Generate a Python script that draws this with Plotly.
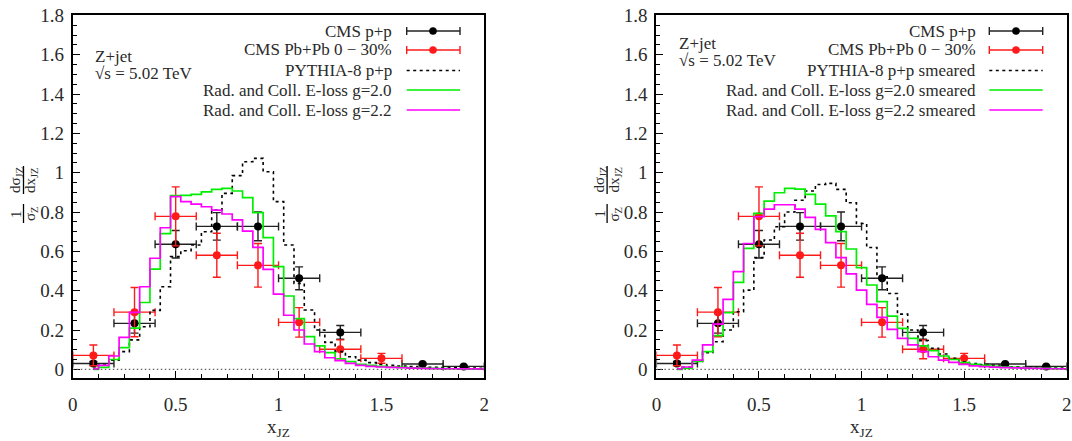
import plotly.graph_objects as go

# ---------------- data ----------------
xb = [0.10, 0.15, 0.20, 0.25, 0.30, 0.35, 0.40, 0.45, 0.50, 0.55, 0.60, 0.65, 0.70,
      0.75, 0.80, 0.85, 0.90, 0.95, 1.00, 1.05, 1.10, 1.15, 1.20, 1.25, 1.30, 1.35,
      1.40, 1.45, 1.50, 1.55, 1.60, 1.65, 1.70, 1.75, 1.80, 1.85, 1.90, 1.95, 2.00]

green_L = [0.0, 0.01, 0.05, 0.11, 0.21, 0.34, 0.51, 0.69, 0.883, 0.885, 0.89, 0.903, 0.915,
           0.92, 0.907, 0.873, 0.797, 0.67, 0.522, 0.373, 0.258, 0.166, 0.119, 0.085, 0.054,
           0.039, 0.025, 0.02, 0.015, 0.012, 0.01, 0.008, 0.006, 0.005, 0.004, 0.003, 0.002,
           0.002, 0.001]
magenta_L = [0.002, 0.02, 0.068, 0.163, 0.29, 0.42, 0.565, 0.72, 0.878, 0.853, 0.84, 0.827,
             0.81, 0.79, 0.76, 0.703, 0.62, 0.508, 0.383, 0.275, 0.2, 0.129, 0.09, 0.059,
             0.044, 0.03, 0.02, 0.015, 0.012, 0.01, 0.008, 0.006, 0.005, 0.004, 0.003, 0.003,
             0.002, 0.002, 0.001]
pythia_L = [0.005, 0.022, 0.047, 0.09, 0.15, 0.217, 0.30, 0.42, 0.573, 0.603, 0.632, 0.70,
            0.81, 0.895, 0.985, 1.056, 1.073, 1.005, 0.853, 0.632, 0.437, 0.302, 0.2, 0.137,
            0.09, 0.064, 0.047, 0.034, 0.025, 0.02, 0.017, 0.014, 0.012, 0.01, 0.009, 0.008,
            0.007, 0.006, 0.005]

green_R = [0.0, 0.005, 0.04, 0.09, 0.171, 0.288, 0.442, 0.615, 0.793, 0.856, 0.898, 0.92,
           0.917, 0.89, 0.84, 0.78, 0.70, 0.612, 0.517, 0.429, 0.344, 0.271, 0.208, 0.158,
           0.119, 0.095, 0.068, 0.05, 0.034, 0.025, 0.02, 0.015, 0.012, 0.01, 0.008, 0.006,
           0.005, 0.004, 0.003]
magenta_R = [0.002, 0.012, 0.047, 0.124, 0.23, 0.356, 0.497, 0.64, 0.776, 0.815, 0.837, 0.837,
             0.815, 0.773, 0.712, 0.644, 0.568, 0.486, 0.403, 0.33, 0.264, 0.203, 0.158, 0.124,
             0.09, 0.064, 0.047, 0.035, 0.025, 0.018, 0.014, 0.011, 0.009, 0.007, 0.006, 0.005,
             0.004, 0.003, 0.002]
pythia_R = [0.002, 0.01, 0.04, 0.085, 0.14, 0.2, 0.293, 0.403, 0.568, 0.658, 0.725, 0.80,
            0.86, 0.907, 0.94, 0.946, 0.915, 0.847, 0.742, 0.62, 0.471, 0.386, 0.281, 0.2,
            0.146, 0.107, 0.078, 0.056, 0.039, 0.03, 0.024, 0.02, 0.016, 0.013, 0.011, 0.009,
            0.008, 0.007, 0.006]

pp_x = [0.1, 0.3, 0.5, 0.7, 0.9, 1.1, 1.3, 1.7, 1.9]
pp_y = [0.03, 0.234, 0.636, 0.727, 0.727, 0.463, 0.188, 0.027, 0.015]
pp_ey = [0.01, 0.05, 0.07, 0.07, 0.073, 0.058, 0.035, 0.006, 0.005]
pp_ex = [0.1, 0.1, 0.1, 0.1, 0.1, 0.1, 0.1, 0.1, 0.1]

aa_x = [0.1, 0.3, 0.5, 0.7, 0.9, 1.1, 1.3, 1.5]
aa_y = [0.071, 0.291, 0.778, 0.58, 0.529, 0.239, 0.102, 0.056]
aa_ey = [0.053, 0.125, 0.15, 0.112, 0.111, 0.075, 0.048, 0.025]
aa_ex = [0.1, 0.1, 0.1, 0.1, 0.1, 0.1, 0.1, 0.1]

yticks = [0, 0.2, 0.4, 0.6, 0.8, 1.0, 1.2, 1.4, 1.6, 1.8]
ytick_text = ["0", "0.2", "0.4", "0.6", "0.8", "1", "1.2", "1.4", "1.6", "1.8"]
xticks = [0, 0.5, 1, 1.5, 2]
xtick_text = ["0", "0.5", "1", "1.5", "2"]

legend_L = ["CMS p+p", "CMS Pb+Pb 0 \u2212 30%", "PYTHIA-8 p+p",
            "Rad. and Coll. E-loss g=2.0", "Rad. and Coll. E-loss g=2.2"]
legend_R = ["CMS p+p", "CMS Pb+Pb 0 \u2212 30%", "PYTHIA-8 p+p smeared",
            "Rad. and Coll. E-loss g=2.0 smeared", "Rad. and Coll. E-loss g=2.2 smeared"]

# ---------------- layout constants ----------------
W, H = 1072, 441
FONT = "Liberation Serif"
TXT = "#2a2a2a"
BLACK = "#000000"
RED = "#ff1a1a"
GREEN = "#00ee00"
MAGENTA = "#ff00ff"

panels = [dict(x0=72.8, x1=484.3), dict(x0=656.4, x1=1066.7)]
ptop, pbot = 15.4, 378.0

def px(x):
    return x / W

def py(y):
    return 1 - y / H

def ann(x, y, text, font, xanchor="center", yanchor="middle", **kw):
    d = dict(xref="paper", yref="paper", x=px(x), y=py(y), text=text, showarrow=False,
             font=font, xanchor=xanchor, yanchor=yanchor)
    d.update(kw)
    return d

fig = go.Figure()

series = [(green_L, magenta_L, pythia_L), (green_R, magenta_R, pythia_R)]

for i, (g, m, p) in enumerate(series):
    xa = "x" if i == 0 else "x2"
    ya = "y" if i == 0 else "y2"
    fig.add_trace(go.Scatter(
        x=pp_x, y=pp_y, mode="markers", xaxis=xa, yaxis=ya, showlegend=False,
        marker=dict(color=BLACK, size=8),
        error_x=dict(type="data", array=pp_ex, color="#222222", thickness=1.4, width=4),
        error_y=dict(type="data", array=pp_ey, color="#222222", thickness=1.4, width=4)))
    fig.add_trace(go.Scatter(
        x=aa_x, y=aa_y, mode="markers", xaxis=xa, yaxis=ya, showlegend=False,
        marker=dict(color=RED, size=8),
        error_x=dict(type="data", array=aa_ex, color=RED, thickness=1.4, width=4),
        error_y=dict(type="data", array=aa_ey, color=RED, thickness=1.4, width=4)))
    fig.add_trace(go.Scatter(x=xb, y=p, mode="lines", xaxis=xa, yaxis=ya, showlegend=False,
                             line=dict(color=BLACK, width=1.6, dash="3px,3.5px", shape="hvh")))
    fig.add_trace(go.Scatter(x=xb, y=g, mode="lines", xaxis=xa, yaxis=ya, showlegend=False,
                             line=dict(color=GREEN, width=1.7, shape="hvh")))
    fig.add_trace(go.Scatter(x=xb, y=m, mode="lines", xaxis=xa, yaxis=ya, showlegend=False,
                             line=dict(color=MAGENTA, width=1.7, shape="hvh")))

axis_common = dict(
    showgrid=False, zeroline=False, showline=True, linecolor=BLACK, linewidth=2,
    mirror=True, ticks="inside", ticklen=7, tickwidth=1.3, tickcolor=BLACK,
    tickfont=dict(family=FONT, size=19, color=TXT), automargin=False,
)
yrange = [-0.044, 1.8]
for i, pnl in enumerate(panels):
    xkey = "xaxis" if i == 0 else "xaxis2"
    ykey = "yaxis" if i == 0 else "yaxis2"
    fig.layout[xkey] = dict(
        axis_common, domain=[px(pnl["x0"]), px(pnl["x1"])], range=[0, 2],
        tickmode="array", tickvals=xticks, ticktext=xtick_text,
        ticklabelstandoff=8,
        minor=dict(dtick=0.125, ticklen=4, ticks="inside", tickcolor=BLACK, tickwidth=1),
        anchor="y" if i == 0 else "y2")
    fig.layout[ykey] = dict(
        axis_common, domain=[py(pbot), py(ptop)], range=yrange,
        tickmode="array", tickvals=yticks, ticktext=ytick_text,
        ticklabelstandoff=3,
        minor=dict(dtick=0.05, ticklen=4, ticks="inside", tickcolor=BLACK, tickwidth=1),
        anchor="x" if i == 0 else "x2")

shapes = []
annots = []
tf = dict(family=FONT, size=15, color=TXT)
for i, pnl in enumerate(panels):
    xa = "x" if i == 0 else "x2"
    ya = "y" if i == 0 else "y2"
    shapes.append(dict(type="line", xref=xa, yref=ya, x0=0, x1=2, y0=0, y1=0,
                       line=dict(color="#666666", width=1.4, dash="1.5px,2.5px")))
    off = pnl["x0"] - panels[0]["x0"]
    annots.append(ann((pnl["x0"] + pnl["x1"]) / 2, 428, "x<sub>JZ</sub>",
                      dict(family=FONT, size=19, color=TXT)))
    # y title: rotated fraction  (1/sigma_Z) (d sigma_JZ / d x_JZ)
    annots.append(ann(16 + off, 214, "1", tf, textangle=-90))
    annots.append(ann(16 + off, 180, "d\u03c3<sub>JZ</sub>", tf, textangle=-90))
    annots.append(ann(31 + off, 214, "\u03c3<sub>Z</sub>", tf, textangle=-90))
    annots.append(ann(31 + off, 180, "dx<sub>JZ</sub>", tf, textangle=-90))
    for (a, b) in [(204, 223), (166, 194)]:
        shapes.append(dict(type="line", xref="paper", yref="paper",
                           x0=px(23.5 + off), x1=px(23.5 + off), y0=py(a), y1=py(b),
                           line=dict(color=BLACK, width=1.3)))

lab_font = dict(family=FONT, size=17, color=TXT)
sqrt_txt = "\u221as = 5.02 TeV"
for (x0, y1, y2) in [(93, 56, 73.5), (677, 43, 60)]:
    annots.append(ann(x0, y1, "Z+jet", lab_font, xanchor="left"))
    annots.append(ann(x0, y2, sqrt_txt, lab_font, xanchor="left"))

rows = [31, 50, 70.5, 90, 110]
leg_geo = [dict(tx=394, l0=406.7, l1=460, dot=433), dict(tx=977.5, l0=989.3, l1=1042.7, dot=1016)]
for i, (texts, g) in enumerate(zip([legend_L, legend_R], leg_geo)):
    for j, (t, ry) in enumerate(zip(texts, rows)):
        annots.append(ann(g["tx"], ry, t, lab_font, xanchor="right"))
        if j < 2:
            c = "#222222" if j == 0 else RED
            mc = BLACK if j == 0 else RED
            shapes.append(dict(type="line", xref="paper", yref="paper", x0=px(g["l0"]), x1=px(g["l1"]),
                               y0=py(ry), y1=py(ry), line=dict(color=c, width=1.4)))
            for xe in (g["l0"], g["l1"]):
                shapes.append(dict(type="line", xref="paper", yref="paper", x0=px(xe), x1=px(xe),
                                   y0=py(ry - 4), y1=py(ry + 4), line=dict(color=c, width=1.4)))
            r = 3.6
            shapes.append(dict(type="circle", xref="paper", yref="paper",
                               x0=px(g["dot"] - r), x1=px(g["dot"] + r), y0=py(ry + r), y1=py(ry - r),
                               fillcolor=mc, line=dict(color=mc, width=0.5)))
        else:
            lc = [BLACK, GREEN, MAGENTA][j - 2]
            dash = "3px,3.5px" if j == 2 else "solid"
            shapes.append(dict(type="line", xref="paper", yref="paper", x0=px(g["l0"]), x1=px(g["l1"]),
                               y0=py(ry), y1=py(ry), line=dict(color=lc, width=1.7, dash=dash)))

fig.update_layout(
    template="none",
    width=W, height=H, margin=dict(l=0, r=0, t=0, b=0, pad=0),
    paper_bgcolor="white", plot_bgcolor="white",
    shapes=shapes, annotations=annots, showlegend=False,
    font=dict(family=FONT), hovermode=False,
)

fig.write_html("out.html", config={"displayModeBar": False},
               post_script="document.body.style.margin='0px';")
